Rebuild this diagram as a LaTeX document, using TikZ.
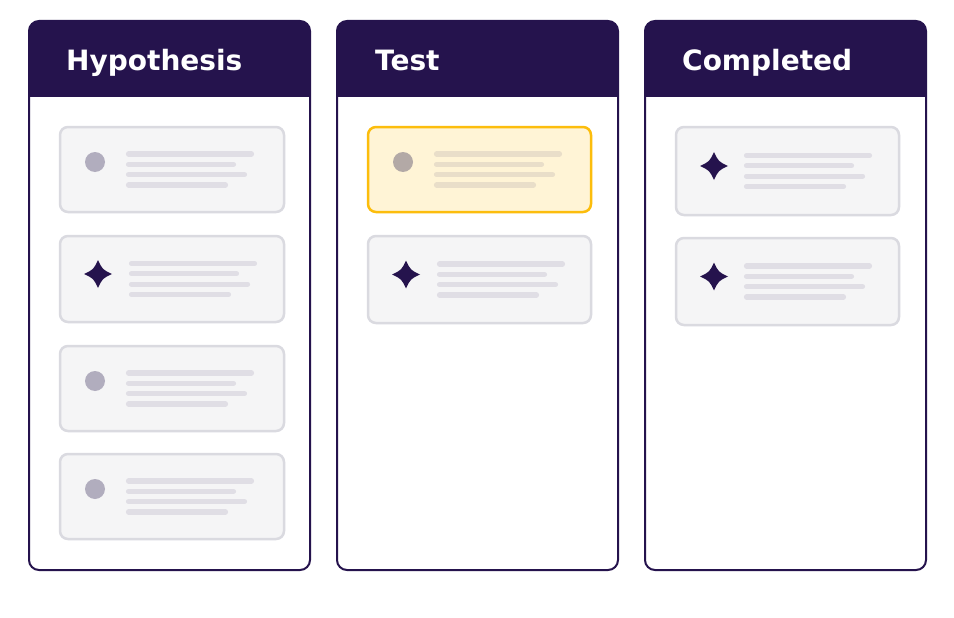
\documentclass[tikz,border=0pt]{standalone}
\usepackage{fontspec}
\setmainfont{DejaVu Sans}
\usetikzlibrary{calc}
\definecolor{ink}{HTML}{25134D}
\definecolor{cardfill}{HTML}{F5F5F6}
\definecolor{cardedge}{HTML}{DADAE0}
\definecolor{barcol}{HTML}{E0DEE5}
\definecolor{dotcol}{HTML}{B1ADBE}
\definecolor{hiedge}{HTML}{FCBD0C}
\definecolor{hifill}{HTML}{FFF4D6}
\definecolor{hidot}{HTML}{B3A9A6}
\definecolor{hibar}{HTML}{E9DEC9}
\tikzset{
  colframe/.style={draw=ink, line width=2pt, rounded corners=10pt},
  cardbox/.style={draw=cardedge, fill=cardfill, line width=2.5pt, rounded corners=8pt, anchor=north west, inner sep=0pt, outer sep=0pt},
  hicard/.style={cardbox, draw=hiedge, fill=hifill},
  txtbar/.style={draw=barcol, line width=5.2pt, line cap=round},
  hibar/.style={txtbar, draw=hibar},
  headtext/.style={text=white, font=\bfseries\fontsize{28}{30}\selectfont, anchor=base west, inner sep=0pt}
}
% #1 name, #2 x0, #3 y0, #4 width, #5 height, #6 style
\newcommand{\kcard}[6]{%
  \node[#6, minimum width=#4pt, minimum height=#5pt] (#1) at (#2,#3) {};}
% bars: #1 card name, #2 start offset, #3 bar style
\newcommand{\kbars}[3]{%
  \draw[#3] ([xshift=#2pt, yshift=15.5pt]#1.west) -- ++(123,0);
  \draw[#3] ([xshift=#2pt, yshift=5.2pt]#1.west) -- ++(105,0);
  \draw[#3] ([xshift=#2pt, yshift=-5.2pt]#1.west) -- ++(116,0);
  \draw[#3] ([xshift=#2pt, yshift=-15.5pt]#1.west) -- ++(97,0);}
\newcommand{\kdot}[2]{%
  \fill[#2] ([xshift=35pt, yshift=7.5pt]#1.west) circle (10);}
\newcommand{\kstar}[1]{%
  \coordinate (#1s) at ([xshift=38pt, yshift=5pt]#1.west);
  \begin{scope}[shift={(#1s)}]
    \fill[ink] (0,-14) .. controls (4.5,-4.5) .. (14,0) .. controls (4.5,4.5) .. (0,14)
      .. controls (-4.5,4.5) .. (-14,0) .. controls (-4.5,-4.5) .. (0,-14) -- cycle;
  \end{scope}}
\begin{document}
\begin{tikzpicture}[x=1pt, y=-1pt]
\useasboundingbox (0,0) rectangle (954,618);
\fill[white] (0,0) rectangle (954,618);
% columns
\foreach \cx/\cn/\lab/\tx in {29/colA/Hypothesis/66, 337/colB/Test/375, 645/colC/Completed/682}{
  \fill[ink, rounded corners=10pt] (\cx,21) rectangle ++(281,76);
  \fill[ink] (\cx,60) rectangle ++(281,37);
  \draw[colframe] (\cx,21) rectangle ++(281,549);
  \node[headtext] (\cn) at (\tx,71) {\lab};
}
% column 1
\kcard{a1}{60}{127}{224}{85}{cardbox}
\kdot{a1}{dotcol}\kbars{a1}{68.5}{txtbar}
\kcard{a2}{60}{236}{224}{86}{cardbox}
\kstar{a2}\kbars{a2}{71.5}{txtbar}
\kcard{a3}{60}{346}{224}{85}{cardbox}
\kdot{a3}{dotcol}\kbars{a3}{68.5}{txtbar}
\kcard{a4}{60}{454}{224}{85}{cardbox}
\kdot{a4}{dotcol}\kbars{a4}{68.5}{txtbar}
% column 2
\kcard{b1}{368}{127}{223}{85}{hicard}
\kdot{b1}{hidot}\kbars{b1}{68.5}{hibar}
\kcard{b2}{368}{236}{223}{87}{cardbox}
\kstar{b2}\kbars{b2}{71.5}{txtbar}
% column 3
\kcard{c1}{676}{127}{223}{88}{cardbox}
\kstar{c1}\kbars{c1}{70.5}{txtbar}
\kcard{c2}{676}{238}{223}{87}{cardbox}
\kstar{c2}\kbars{c2}{70.5}{txtbar}
\end{tikzpicture}
\end{document}
